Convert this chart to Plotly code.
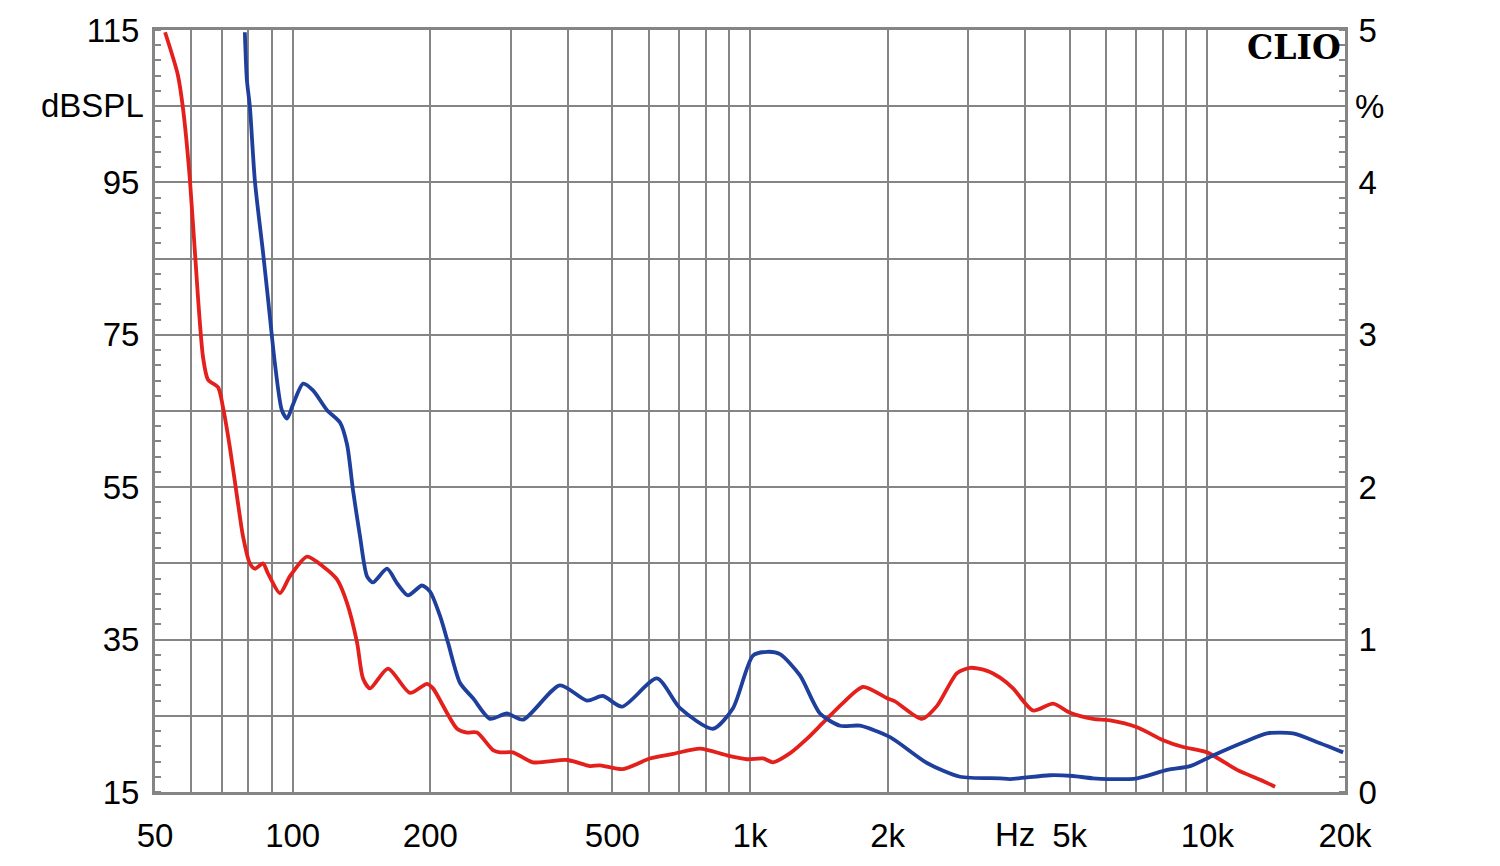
import plotly.graph_objects as go

# Red curve (dBSPL vs Hz)
red_f = [52.6, 56.1, 57.6, 59.6, 62.1, 63.7, 65.3, 68.7, 70.4, 72.9, 75.6, 77.9, 80.6, 82.7, 86.1,
         88.3, 93.8, 98.6, 107.5, 116.5, 125, 131.5, 138.3, 142.5, 147.6, 161.6, 180.5, 196.7, 202.7,
         228.8, 240.6, 253, 274.2, 284, 303, 335, 398, 447, 470, 527, 604, 679, 778, 891, 985, 1068,
         1123, 1224, 1333, 1445, 1598, 1767, 1994, 2075, 2378, 2564, 2836, 3028, 3299, 3522, 3760,
         4159, 4599, 5010, 5625, 6129, 7021, 8006, 8851, 9988, 11615, 13044, 14067]
red_db = [114.7, 109.1, 104.6, 95.4, 79.8, 72.0, 69.1, 68.1, 65.5, 60.2, 53.7, 48.5, 45.0, 44.3, 45.0,
          43.7, 41.1, 43.3, 45.9, 44.6, 42.9, 39.8, 34.6, 29.9, 28.6, 31.2, 28.0, 29.2, 28.6,
          23.3, 22.8, 22.8, 20.5, 20.2, 20.2, 18.9, 19.2, 18.4, 18.5, 18.0, 19.4, 20.0, 20.7, 19.8, 19.3, 19.4,
          18.9, 20.1, 22.0, 24.1, 26.7, 28.8, 27.3, 26.9, 24.6, 26.3, 30.6, 31.3, 30.9, 30.0, 28.6,
          25.7, 26.6, 25.4, 24.6, 24.4, 23.5, 21.8, 20.9, 20.2, 17.9, 16.6, 15.7]

# Blue curve (dBSPL vs Hz)
blue_f = [78.6, 79.4, 80.6, 82.7, 86.1, 88.3, 91.5, 94.7, 97.2, 100.1, 105.4, 110.8, 118.9, 126.9,
          131.5, 135.5, 140.4, 145.4, 149.8, 160.8, 169.1, 178.7, 191.8, 199.7, 210, 218.6, 232.3,
          248, 270, 294, 319, 384, 440, 477, 525, 626, 703, 830, 918, 1015, 1090, 1163, 1286, 1423,
          1573, 1740, 2024, 2438, 2880, 3522, 3703, 4530, 5085, 5625, 7021, 8166, 9168, 10293,
          11968, 13508, 15395, 17643, 19810]
blue_db = [114.7, 108.5, 105.0, 95.1, 85.9, 79.8, 71.1, 65.1, 64.0, 65.8, 68.6, 67.7, 65.1, 63.5,
           60.6, 54.6, 48.5, 43.3, 42.5, 44.3, 42.4, 40.8, 42.1, 41.3, 38.1, 34.6, 29.3,
           27.3, 24.6, 25.3, 24.5, 29.0, 27.0, 27.6, 26.2, 29.9, 26.0, 23.3, 26.0, 32.9, 33.4, 33.1, 30.3, 25.3,
           23.7, 23.7, 22.2, 18.8, 17.0, 16.8, 16.7, 17.2, 17.1, 16.8, 16.8, 17.9, 18.4, 19.8,
           21.5, 22.7, 22.7, 21.4, 20.2]

# Axes
x_grid = [50, 60, 70, 80, 90, 100, 200, 300, 400, 500, 600, 700, 800, 900,
          1000, 2000, 3000, 4000, 5000, 6000, 7000, 8000, 9000, 10000, 20000]
x_labels = {50: "50", 100: "100", 200: "200", 500: "500", 1000: "1k", 2000: "2k",
            5000: "5k", 10000: "10k", 20000: "20k"}
y_grid = [15, 25, 35, 45, 55, 65, 75, 85, 95, 105, 115]
y_labels = {15: "15", 35: "35", 55: "55", 75: "75", 95: "95", 115: "115"}
y2_ticks = [0, 1, 2, 3, 4, 5]

FONT = "Liberation Sans, Arial, sans-serif"
FS = 33
GRID = "#858585"
AXIS = "#858585"

fig = go.Figure()
fig.add_trace(go.Scatter(x=red_f, y=red_db, mode="lines",
                         line=dict(color="#e4201c", width=3.8, shape="spline", smoothing=0.7),
                         showlegend=False, hoverinfo="skip"))
fig.add_trace(go.Scatter(x=blue_f, y=blue_db, mode="lines",
                         line=dict(color="#1f3f9c", width=3.8, shape="spline", smoothing=0.7),
                         showlegend=False, hoverinfo="skip"))
# invisible trace for right axis
fig.add_trace(go.Scatter(x=[50], y=[0], yaxis="y2", mode="markers",
                         marker=dict(opacity=0), showlegend=False, hoverinfo="skip"))

fig.update_layout(
    width=1500, height=866,
    margin=dict(l=155, r=155, t=30, b=69),
    paper_bgcolor="white", plot_bgcolor="white",
    font=dict(family=FONT, size=FS, color="black"),
    xaxis=dict(type="log", range=[1.69897, 4.30103],
               tickmode="array", tickvals=x_grid,
               ticktext=[x_labels.get(v, "") for v in x_grid],
               showgrid=True, gridcolor=GRID, gridwidth=1.6,
               showline=True, linecolor=AXIS, linewidth=3, mirror=True,
               ticks="", ticklabelstandoff=12, zeroline=False,
               tickfont=dict(family=FONT, size=FS, color="black")),
    yaxis=dict(range=[15, 115], tickmode="array", tickvals=y_grid,
               ticktext=[y_labels.get(v, "") for v in y_grid],
               showgrid=True, gridcolor=GRID, gridwidth=1.6,
               showline=True, linecolor=AXIS, linewidth=3,
               ticks="", ticklabelstandoff=6, zeroline=False,
               minor=dict(tick0=15, dtick=2, ticks="inside", ticklen=6,
                          tickcolor=AXIS, tickwidth=1.5, showgrid=False),
               tickfont=dict(family=FONT, size=FS, color="black")),
    yaxis2=dict(range=[0, 5], overlaying="y", side="right",
                tickmode="array", tickvals=y2_ticks,
                showgrid=False, showline=True, linecolor=AXIS, linewidth=3,
                ticks="", ticklabelstandoff=4, zeroline=False,
                minor=dict(tick0=0, dtick=0.1, ticks="inside", ticklen=6,
                           tickcolor=AXIS, tickwidth=1.5, showgrid=False),
                tickfont=dict(family=FONT, size=FS, color="black")),
    annotations=[
        dict(text="dBSPL", xref="paper", yref="paper", x=-0.0075, y=0.901,
             xanchor="right", yanchor="middle", showarrow=False,
             font=dict(family=FONT, size=FS, color="black")),
        dict(text="%", xref="paper", yref="paper", x=1.007, y=0.899,
             xanchor="left", yanchor="middle", showarrow=False,
             font=dict(family=FONT, size=FS, color="black")),
        dict(text="<b>CLIO</b>", xref="paper", yref="paper", x=0.998, y=0.977,
             xanchor="right", yanchor="middle", showarrow=False,
             font=dict(family="DejaVu Serif, serif", size=33, color="black")),
        dict(text="Hz", xref="paper", yref="paper", x=0.7227, y=-0.056,
             xanchor="center", yanchor="middle", showarrow=False,
             font=dict(family=FONT, size=FS, color="black")),
    ],
)

fig.write_html("out.html")
